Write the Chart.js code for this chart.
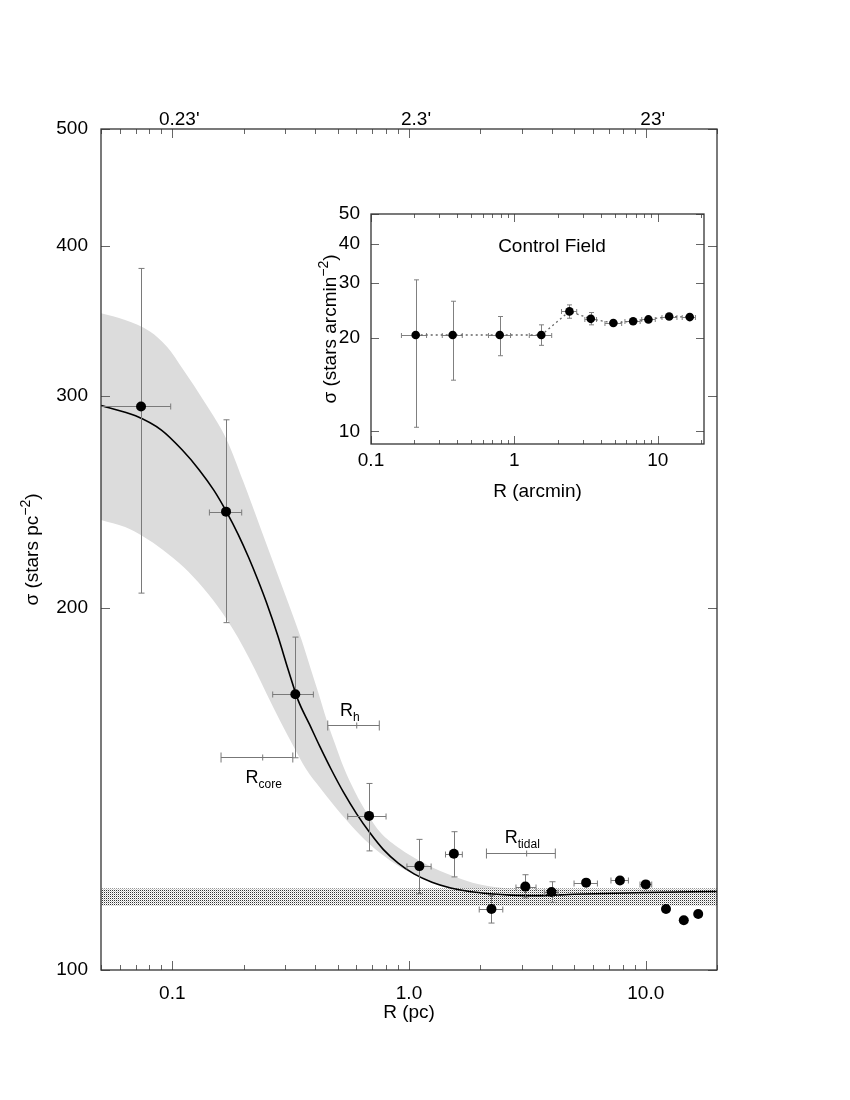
<!DOCTYPE html>
<html><head><meta charset="utf-8">
<script src="https://cdn.jsdelivr.net/npm/chart.js@4.4.0/dist/chart.umd.min.js"></script>
<style>
html,body{margin:0;padding:0;background:#fff;}
#wrap{position:relative;width:850px;height:1100px;background:#fff;}
canvas{position:absolute;left:0;top:0;}
</style></head><body>
<div id="wrap"><canvas id="main" width="850" height="1100"></canvas><canvas id="inset" width="850" height="1100"></canvas></div>
<script>
// ---------------- MAIN PANEL DATA (R in pc, sigma in stars pc^-2) ----------------
const R_pc        = [0.0738,0.1687,0.331,0.678,1.106,1.547,2.23,3.10,4.0,5.6,7.78,10.0,12.18,14.48,16.66];
const sigma_pc    = [294,240.4,169.5,134.3,122.0,124.9,112.4,117.3,116.1,118.2,118.7,117.8,112.4,110.0,111.3];
const sigma_pc_lo = [205.7,194.4,150.1,125.6,115.7,119.5,109.4,114.8,113.8,117.5,118.0,117.1,null,null,null];
const sigma_pc_hi = [382.9,286.6,189.1,142.9,128.4,130.3,115.3,120.0,118.4,118.9,119.4,118.5,null,null,null];
const R_pc_lo     = [0.048,0.1435,0.2656,0.551,0.98,1.426,1.98,2.83,3.73,4.98,7.13,9.46,null,null,null];
const R_pc_hi     = [0.0985,0.1965,0.3945,0.80,1.24,1.68,2.49,3.44,4.26,6.25,8.45,10.6,null,null,null];

// fitted profile
const fitR     = [0.05,0.07,0.09,0.11,0.13,0.15,0.17,0.19,0.21,0.23,0.25,0.28,0.31,0.34,0.38,0.42,0.47,0.53,0.6,0.68,0.78,0.9,1.05,1.25,1.5,1.8,2.2,2.7,3.5,5,10,20];
const fitSigma = [294.5,288.8,281.0,270.6,260.4,250.4,240.1,230.1,220.3,210.9,202.0,189.2,177.2,167.6,160.0,153.4,146.7,140.4,134.9,130.2,125.9,122.7,120.2,118.3,117.0,116.2,115.7,115.4,115.3,115.6,116.0,116.2];

// uncertainty band of the fit (upper and lower edges)
const bandHiR = [0.05,0.0632,0.0805,0.095,0.1113,0.1375,0.1699,0.199,0.2348,0.2852,0.3516,0.3819,0.4127,0.4492,0.4871,0.528,0.5917,0.6632,0.7547,0.9167,1.1135,1.448,2.016,2.945,5.28,20];
const bandHi  = [351.5,347.0,339.4,329.6,315.4,296.1,275.8,255.0,233.6,210.6,188.1,178.7,170.3,161.3,154.1,147.6,140.6,135.1,130.2,126.1,123.2,120.2,117.7,116.8,116.7,116.6];
const bandLoR = [0.05,0.0632,0.0754,0.0914,0.1113,0.1349,0.1638,0.1996,0.2237,0.2506,0.2852,0.3246,0.3674,0.4209,0.5113,0.6212,0.755,0.9167,1.103,1.353,1.708,2.425,5.28,20];
const bandLo  = [236.6,233.4,229.2,223.4,216.3,207.8,197.7,185.5,177.6,169.6,161.1,153.5,146.9,141.7,135.1,129.5,125.1,121.8,119.5,117.7,116.3,115.7,115.6,115.9];

// background level band
const bgR  = [0.05,20];
const bgHi = [116.9,116.9];
const bgLo = [113.1,113.1];

// radius markers
const markerNames = ['core','h','tidal'];
const markerLo    = [0.1607,0.4537,2.124];
const markerMid   = [0.241,0.6015,3.14];
const markerHi    = [0.323,0.749,4.15];
const markerSigma = [150.3,159.9,125.0];
const markerLabelR     = [0.2434,0.562,3.01];
const markerLabelSigma = [143.1,162.6,127.4];

// ticks
const xMajorTicks   = [0.1,1,10];
const xTickLabels   = ['0.1','1.0','10.0'];
const topTickLabels = ["0.23'","2.3'","23'"];
const yTicksMain    = [100,200,300,400,500];
const yTickLabelsMain = ['100','200','300','400','500'];

// ---------------- INSET DATA (control field, arcmin) ----------------
const R_cf        = [0.205,0.371,0.79,1.54,2.42,3.41,4.9,6.73,8.6,12.0,16.7];
const sigma_cf    = [20.4,20.4,20.4,20.4,24.3,23.0,22.3,22.6,22.9,23.4,23.3];
const sigma_cf_lo = [10.3,14.6,17.5,18.9,23.1,22.0,21.9,22.2,22.5,23.0,22.9];
const sigma_cf_hi = [30.7,26.2,23.4,22.0,25.5,24.1,22.7,23.0,23.3,23.8,23.7];
const R_cf_lo     = [0.163,0.314,0.66,1.27,2.13,3.1,4.28,5.9,7.73,10.7,14.8];
const R_cf_hi     = [0.244,0.433,0.94,1.82,2.72,3.74,5.6,7.53,9.6,13.6,18.3];
const insetXTicks = [0.1,1,10];
const insetXLabels = ['0.1','1','10'];
const insetYTicks = [10,20,30,40,50];
const insetYLabels = ['10','20','30','40','50'];

// ---------------- helpers ----------------
const FONT = '"Liberation Sans", Arial, Helvetica, sans-serif';
Chart.defaults.font.family = FONT;
Chart.defaults.color = '#000';

function logAllTicks(min,max){
  const out=[];
  for(let e=Math.floor(Math.log10(min))-1;e<=Math.ceil(Math.log10(max));e++){
    for(let m=1;m<10;m++){const v=m*Math.pow(10,e); if(v>=min*0.999&&v<=max*1.001) out.push(v);}
  }
  return out;
}
function pts(xs,ys){return xs.map((x,i)=>({x:x,y:ys[i]}));}

function drawRich(ctx, parts, x, y, rotate){
  ctx.save();
  ctx.translate(x,y);
  if(rotate) ctx.rotate(-Math.PI/2);
  let total=0;
  parts.forEach(p=>{ctx.font=p.s+'px '+FONT; p.w=ctx.measureText(p.t).width; total+=p.w;});
  let cx=-total/2;
  ctx.textBaseline='alphabetic'; ctx.textAlign='left'; ctx.fillStyle='#000';
  parts.forEach(p=>{ctx.font=p.s+'px '+FONT; ctx.fillText(p.t,cx,p.dy||0); cx+=p.w;});
  ctx.restore();
}

const errorBarPlugin = {
  id:'errorBars',
  beforeDatasetDraw(chart,args){
    const ds = chart.data.datasets[args.index];
    const eb = ds.errorBars; if(!eb) return;
    const xs = chart.scales.x, ys = chart.scales.y, ctx = chart.ctx, a = chart.chartArea;
    ctx.save();
    ctx.beginPath(); ctx.rect(a.left,a.top,a.right-a.left,a.bottom-a.top); ctx.clip();
    ctx.strokeStyle = eb.color; ctx.lineWidth = eb.width;
    ds.data.forEach((p,i)=>{
      const px = Math.round(xs.getPixelForValue(p.x))+0.5, py = Math.round(ys.getPixelForValue(p.y))+0.5;
      ctx.beginPath();
      if(eb.yLo[i]!=null){
        const y1 = ys.getPixelForValue(eb.yLo[i]), y2 = ys.getPixelForValue(eb.yHi[i]);
        ctx.moveTo(px,y1); ctx.lineTo(px,y2);
        ctx.moveTo(px-eb.cap,y1); ctx.lineTo(px+eb.cap,y1);
        ctx.moveTo(px-eb.cap,y2); ctx.lineTo(px+eb.cap,y2);
      }
      if(eb.xLo[i]!=null){
        const x1 = xs.getPixelForValue(eb.xLo[i]), x2 = xs.getPixelForValue(eb.xHi[i]);
        ctx.moveTo(x1,py); ctx.lineTo(x2,py);
        ctx.moveTo(x1,py-eb.cap); ctx.lineTo(x1,py+eb.cap);
        ctx.moveTo(x2,py-eb.cap); ctx.lineTo(x2,py+eb.cap);
      }
      ctx.stroke();
    });
    ctx.restore();
  }
};

const frameTicksPlugin = {
  id:'frameTicks',
  afterDraw(chart,args,o){
    if(!o || !o.xMajor) return;
    const ctx=chart.ctx, a=chart.chartArea, xs=chart.scales.x, ys=chart.scales.y;
    ctx.save();
    ctx.strokeStyle=o.tickColor; ctx.lineWidth=1;
    ctx.beginPath();
    const xt=(v,len)=>{const p=Math.round(xs.getPixelForValue(v))+0.5; ctx.moveTo(p,a.bottom); ctx.lineTo(p,a.bottom-len); ctx.moveTo(p,a.top); ctx.lineTo(p,a.top+len);};
    const yt=(v,len)=>{const p=Math.round(ys.getPixelForValue(v))+0.5; ctx.moveTo(a.left,p); ctx.lineTo(a.left+len,p); ctx.moveTo(a.right,p); ctx.lineTo(a.right-len,p);};
    o.xMinor.forEach(v=>{ if(!o.xMajor.includes(v)) xt(v,o.minorLen); });
    o.xMajor.forEach(v=>xt(v,o.majorLen));
    o.yMajor.forEach(v=>yt(v,o.majorLen));
    ctx.stroke();
    ctx.strokeStyle=o.frameColor; ctx.lineWidth=o.frameWidth;
    ctx.strokeRect(a.left,a.top,a.right-a.left,a.bottom-a.top);
    ctx.restore();
  }
};

const textPlugin = {
  id:'texts',
  afterDraw(chart,args,o){
    if(!o || !o.draw) return;
    o.draw(chart);
  }
};

function makeStipple(ctx){
  const c=document.createElement('canvas'); c.width=2; c.height=2;
  const g=c.getContext('2d');
  g.fillStyle='#fff'; g.fillRect(0,0,2,2);
  g.fillStyle='#333'; g.fillRect(0,0,1,1);
  g.fillStyle='#c8c8c8'; g.fillRect(1,1,1,1);
  return ctx.createPattern(c,'repeat');
}

// ---------------- MAIN CHART ----------------
const mainCanvas = document.getElementById('main');
const mctx = mainCanvas.getContext('2d');
const stipple = makeStipple(mctx);

new Chart(mctx,{
  type:'line',
  data:{datasets:[
    {label:'bandHi',data:pts(bandHiR,bandHi),borderColor:'rgba(0,0,0,0)',borderWidth:0,pointRadius:0,fill:'+1',backgroundColor:'#dcdcdc',cubicInterpolationMode:'monotone',order:20},
    {label:'bandLo',data:pts(bandLoR,bandLo),borderColor:'rgba(0,0,0,0)',borderWidth:0,pointRadius:0,fill:false,cubicInterpolationMode:'monotone',order:21},
    {label:'bgHi',data:pts(bgR,bgHi),borderColor:'rgba(0,0,0,0)',borderWidth:0,pointRadius:0,fill:'+1',backgroundColor:stipple,order:10},
    {label:'bgLo',data:pts(bgR,bgLo),borderColor:'rgba(0,0,0,0)',borderWidth:0,pointRadius:0,fill:false,order:11},
    {label:'fit',data:pts(fitR,fitSigma),borderColor:'#000',borderWidth:1.6,pointRadius:0,fill:false,cubicInterpolationMode:'monotone',order:5},
    {label:'data',data:pts(R_pc,sigma_pc),showLine:false,pointRadius:5,pointBackgroundColor:'#000',pointBorderColor:'#000',pointBorderWidth:0,order:1,
     errorBars:{xLo:R_pc_lo,xHi:R_pc_hi,yLo:sigma_pc_lo,yHi:sigma_pc_hi,color:'#7a7a7a',width:1,cap:3}}
  ]},
  options:{
    responsive:false,animation:false,devicePixelRatio:1,
    layout:{padding:{left:0,right:133,top:0,bottom:0}},
    plugins:{legend:{display:false},tooltip:{enabled:false},
      frameTicks:{xMajor:xMajorTicks,xMinor:logAllTicks(0.05,20),yMajor:yTicksMain,majorLen:9,minorLen:5,tickColor:'#666',frameColor:'#333',frameWidth:1.3},
      texts:{draw:(chart)=>{
        const ctx=chart.ctx,a=chart.chartArea,xs=chart.scales.x,ys=chart.scales.y;
        ctx.save(); ctx.strokeStyle='#777'; ctx.lineWidth=1; ctx.beginPath();
        markerNames.forEach((n,i)=>{
          const x1=xs.getPixelForValue(markerLo[i]),x2=xs.getPixelForValue(markerHi[i]),xm=xs.getPixelForValue(markerMid[i]);
          const y=Math.round(ys.getPixelForValue(markerSigma[i]))+0.5;
          ctx.moveTo(x1,y);ctx.lineTo(x2,y);
          ctx.moveTo(x1,y-5);ctx.lineTo(x1,y+5);
          ctx.moveTo(x2,y-5);ctx.lineTo(x2,y+5);
          ctx.moveTo(xm,y-3);ctx.lineTo(xm,y+3);
        });
        ctx.stroke(); ctx.restore();
        markerNames.forEach((n,i)=>{
          drawRich(ctx,[{t:'R',s:18},{t:n,s:12,dy:5}],xs.getPixelForValue(markerLabelR[i]),ys.getPixelForValue(markerLabelSigma[i]),false);
        });
        drawRich(ctx,[{t:'R (pc)',s:19}],(a.left+a.right)/2,1018,false);
        drawRich(ctx,[{t:'σ (stars pc',s:19},{t:'−2',s:14,dy:-8},{t:')',s:19}],38,(a.top+a.bottom)/2,true);
      }}
    },
    scales:{
      x:{type:'logarithmic',position:'bottom',min:0.05,max:20,
         grid:{display:false,drawTicks:false},border:{display:false},
         afterBuildTicks:s=>{s.ticks=xMajorTicks.map(v=>({value:v}));},
         ticks:{autoSkip:false,maxRotation:0,padding:12,font:{size:19},color:'#000',callback:(v,i)=>xTickLabels[i]},
         afterFit:s=>{s.height=130;}},
      xTop:{type:'logarithmic',position:'top',min:0.05,max:20,
         grid:{display:false,drawTicks:false},border:{display:false},
         afterBuildTicks:s=>{s.ticks=xMajorTicks.map(v=>({value:v}));},
         ticks:{autoSkip:false,maxRotation:0,padding:-2,labelOffset:7,font:{size:19},color:'#000',callback:(v,i)=>topTickLabels[i]},
         afterFit:s=>{s.height=129;}},
      y:{type:'logarithmic',position:'left',min:100,max:500,
         grid:{display:false,drawTicks:false},border:{display:false},
         afterBuildTicks:s=>{s.ticks=yTicksMain.map(v=>({value:v}));},
         ticks:{autoSkip:false,padding:13,font:{size:19},color:'#000',callback:(v,i)=>yTickLabelsMain[i]},
         afterFit:s=>{s.width=101;}}
    }
  },
  plugins:[errorBarPlugin,frameTicksPlugin,textPlugin]
});

// ---------------- INSET CHART ----------------
const ictx = document.getElementById('inset').getContext('2d');
new Chart(ictx,{
  type:'line',
  data:{datasets:[
    {label:'control',data:pts(R_cf,sigma_cf),showLine:true,borderColor:'#666',borderWidth:1.3,borderDash:[2,3],
     pointRadius:4.3,pointBackgroundColor:'#000',pointBorderColor:'#000',pointBorderWidth:0,fill:false,tension:0,
     errorBars:{xLo:R_cf_lo,xHi:R_cf_hi,yLo:sigma_cf_lo,yHi:sigma_cf_hi,color:'#808080',width:1,cap:2.5}}
  ]},
  options:{
    responsive:false,animation:false,devicePixelRatio:1,
    layout:{padding:{left:0,right:146,top:214,bottom:0}},
    plugins:{legend:{display:false},tooltip:{enabled:false},
      frameTicks:{xMajor:insetXTicks,xMinor:logAllTicks(0.1,21),yMajor:insetYTicks,majorLen:8,minorLen:4,tickColor:'#666',frameColor:'#333',frameWidth:1.3},
      texts:{draw:(chart)=>{
        const ctx=chart.ctx,a=chart.chartArea;
        drawRich(ctx,[{t:'Control Field',s:19}],a.left+181,a.top+38,false);
        drawRich(ctx,[{t:'R (arcmin)',s:19}],(a.left+a.right)/2,497,false);
        drawRich(ctx,[{t:'σ (stars arcmin',s:19},{t:'−2',s:14,dy:-8},{t:')',s:19}],336,(a.top+a.bottom)/2,true);
      }}
    },
    scales:{
      x:{type:'logarithmic',position:'bottom',min:0.1,max:21,
         grid:{display:false,drawTicks:false},border:{display:false},
         afterBuildTicks:s=>{s.ticks=insetXTicks.map(v=>({value:v}));},
         ticks:{autoSkip:false,maxRotation:0,padding:5,font:{size:19},color:'#000',callback:(v,i)=>insetXLabels[i]},
         afterFit:s=>{s.height=656;}},
      y:{type:'logarithmic',position:'left',min:9.1,max:50,
         grid:{display:false,drawTicks:false},border:{display:false},
         afterBuildTicks:s=>{s.ticks=insetYTicks.map(v=>({value:v}));},
         ticks:{autoSkip:false,padding:11,font:{size:19},color:'#000',callback:(v,i)=>insetYLabels[i]},
         afterFit:s=>{s.width=371;}}
    }
  },
  plugins:[errorBarPlugin,frameTicksPlugin,textPlugin]
});
</script>
</body></html>
